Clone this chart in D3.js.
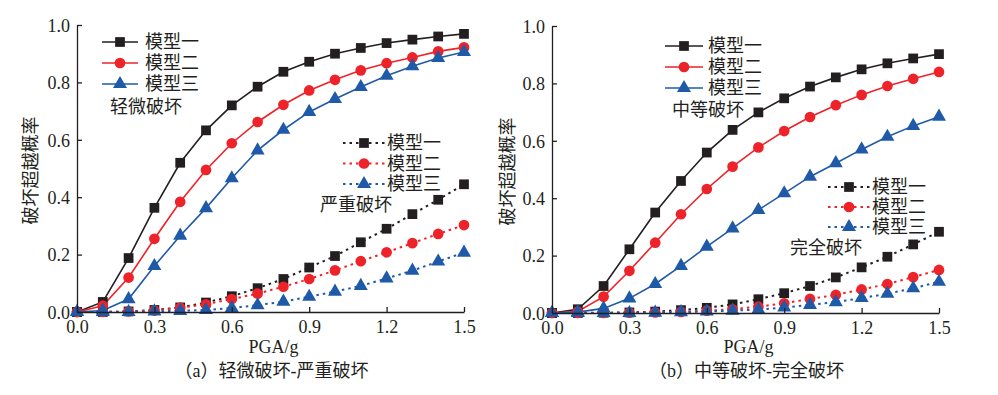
<!DOCTYPE html>
<html><head><meta charset="utf-8">
<script src="https://cdn.jsdelivr.net/npm/d3@7"></script>
<style>
html,body{margin:0;padding:0;background:#fff;}
text{font-family:"Liberation Serif","Noto Sans CJK SC",serif;fill:#231f20;}
</style></head>
<body><svg id="c" width="998" height="395"></svg>
<script>
// ---- data ----
const pga = [0,0.1,0.2,0.3,0.4,0.5,0.6,0.7,0.8,0.9,1.0,1.1,1.2,1.3,1.4,1.5];
const modelNames = ["模型一","模型二","模型三"];
const xTicks = [0,0.3,0.6,0.9,1.2,1.5];
const yTicks = [0,0.2,0.4,0.6,0.8,1.0];

// (a) 轻微破坏 (solid)
const slight1 = [0,0.035,0.188,0.363,0.52,0.633,0.72,0.785,0.837,0.872,0.9,0.92,0.937,0.949,0.96,0.969];
const slight2 = [0,0.022,0.12,0.255,0.384,0.495,0.588,0.662,0.722,0.772,0.809,0.842,0.867,0.887,0.908,0.922];
const slight3 = [0,0.005,0.045,0.16,0.266,0.362,0.466,0.563,0.635,0.697,0.742,0.784,0.823,0.856,0.885,0.906];
// (a) 严重破坏 (dashed)
const severe1 = [0,0,0.002,0.007,0.016,0.033,0.055,0.083,0.115,0.155,0.195,0.243,0.29,0.341,0.391,0.445];
const severe2 = [0,0,0.002,0.005,0.015,0.027,0.045,0.064,0.088,0.115,0.145,0.177,0.208,0.24,0.272,0.303];
const severe3 = [0,0,0,0.002,0.004,0.007,0.014,0.024,0.036,0.053,0.071,0.091,0.117,0.144,0.176,0.207];
// (b) 中等破坏 (solid)
const moderate1 = [0,0.013,0.094,0.222,0.35,0.46,0.559,0.638,0.699,0.748,0.789,0.821,0.849,0.87,0.887,0.902];
const moderate2 = [0,0.005,0.057,0.147,0.245,0.344,0.432,0.51,0.577,0.634,0.683,0.724,0.76,0.791,0.816,0.84];
const moderate3 = [0,0.003,0.016,0.051,0.101,0.164,0.231,0.295,0.359,0.417,0.475,0.522,0.57,0.614,0.652,0.684];
// (b) 完全破坏 (dashed)
const complete1 = [0,0,0.001,0.002,0.005,0.01,0.018,0.03,0.048,0.069,0.094,0.124,0.159,0.196,0.239,0.283];
const complete2 = [0,0,0,0.001,0.002,0.004,0.008,0.013,0.022,0.034,0.049,0.063,0.082,0.101,0.125,0.15];
const complete3 = [0,0,0,0,0.001,0.003,0.005,0.008,0.012,0.019,0.028,0.038,0.052,0.067,0.086,0.109];

const colors = ["#231f20","#ee2229","#1f5aa8"];
const symbols = [d3.symbolSquare, d3.symbolCircle, d3.symbolTriangle];
const symSizes = [95, 90, 85];

const svg = d3.select("#c");

function panel(cfg){
  const x = d3.scaleLinear().domain([0,1.5]).range([cfg.x0, cfg.x1]);
  const y = d3.scaleLinear().domain([0,1]).range([cfg.y0, cfg.y1]);
  const g = svg.append("g");

  const line = d3.line().x((d,i)=>x(pga[i])).y(d=>y(d));
  function drawSeries(arr, dashed){
    arr.forEach((vals,k)=>{
      g.append("path").datum(vals).attr("d",line)
        .attr("fill","none").attr("stroke",colors[k])
        .attr("stroke-width", dashed?2:1.6)
        .attr("stroke-dasharray", dashed?"2.5,4":null);
    });
  }
  function drawMarkers(arr){
    arr.forEach((vals,k)=>{
      g.selectAll(null).data(vals).enter().append("path")
        .attr("d", d3.symbol().type(symbols[k]).size(symSizes[k]))
        .attr("transform",(d,i)=>`translate(${x(pga[i])},${y(d)})`)
        .attr("fill",colors[k]);
    });
  }
  drawSeries(cfg.dashed, true);
  drawSeries(cfg.solid, false);
  drawMarkers(cfg.dashed);
  drawMarkers(cfg.solid);

  // axes
  const xa = g.append("g").attr("transform",`translate(0,${cfg.y0})`)
    .call(d3.axisBottom(x).tickValues(xTicks).tickFormat(d3.format(".1f")).tickSizeInner(-5).tickSizeOuter(0).tickPadding(8));
  const ya = g.append("g").attr("transform",`translate(${cfg.x0},0)`)
    .call(d3.axisLeft(y).tickValues(yTicks).tickFormat(d3.format(".1f")).tickSizeInner(-5).tickSizeOuter(0).tickPadding(7));
  [xa,ya].forEach(a=>{
    a.selectAll("path,line").attr("stroke","#231f20").attr("stroke-width",1.3);
    a.selectAll("text").attr("font-size",18).attr("font-family","Liberation Serif").attr("fill","#231f20");
  });
  xa.selectAll("text").attr("dy","0.72em");
  ya.selectAll("text").attr("dy","0.35em");

  // legends
  function legend(L, dashed){
    modelNames.forEach((name,k)=>{
      const ry = L.y + k*L.dy;
      g.append("line").attr("x1",L.lx0).attr("x2",L.lx1).attr("y1",ry).attr("y2",ry)
        .attr("stroke",colors[k]).attr("stroke-width",dashed?2:1.6)
        .attr("stroke-dasharray",dashed?"2.5,4":null);
      g.append("path").attr("d", d3.symbol().type(symbols[k]).size(symSizes[k]))
        .attr("transform",`translate(${(L.lx0+L.lx1)/2},${ry})`).attr("fill",colors[k]);
      g.append("text").attr("x",L.tx).attr("y",ry).attr("dy","0.36em")
        .attr("font-size",18).text(name);
    });
    g.append("text").attr("x",L.labx).attr("y",L.laby).attr("dy","0.36em")
      .attr("font-size",18).text(L.label);
  }
  legend(cfg.legSolid,false);
  legend(cfg.legDash,true);

  g.append("text").attr("transform",`translate(${cfg.ylabx},${(cfg.y0+cfg.y1)/2+2}) rotate(-90)`)
    .attr("text-anchor","middle").attr("dy","0.36em").attr("font-size",18).text("破坏超越概率");
  g.append("text").attr("x",(cfg.x0+cfg.x1)/2+3).attr("y",347).attr("dy","0.36em")
    .attr("text-anchor","middle").attr("font-size",18).text("PGA/g");
  g.append("text").attr("x",(cfg.x0+cfg.x1)/2+1).attr("y",371).attr("dy","0.36em")
    .attr("text-anchor","middle").attr("font-size",18).text(cfg.caption);
}

panel({x0:77,x1:464,y0:312,y1:25,ylabx:31,
  solid:[slight1,slight2,slight3], dashed:[severe1,severe2,severe3],
  legSolid:{lx0:102,lx1:138,y:42,dy:21,tx:145,label:"轻微破坏",labx:110,laby:107},
  legDash:{lx0:343,lx1:385,y:143,dy:20.5,tx:387,label:"严重破坏",labx:320,laby:205},
  caption:"（a）轻微破坏-严重破坏"});
panel({x0:552,x1:939,y0:313,y1:26,ylabx:508,
  solid:[moderate1,moderate2,moderate3], dashed:[complete1,complete2,complete3],
  legSolid:{lx0:665,lx1:703,y:46,dy:21,tx:708,label:"中等破坏",labx:672,laby:110},
  legDash:{lx0:828,lx1:870,y:187,dy:20,tx:872,label:"完全破坏",labx:790,laby:248},
  caption:"（b）中等破坏-完全破坏"});
</script></body></html>
